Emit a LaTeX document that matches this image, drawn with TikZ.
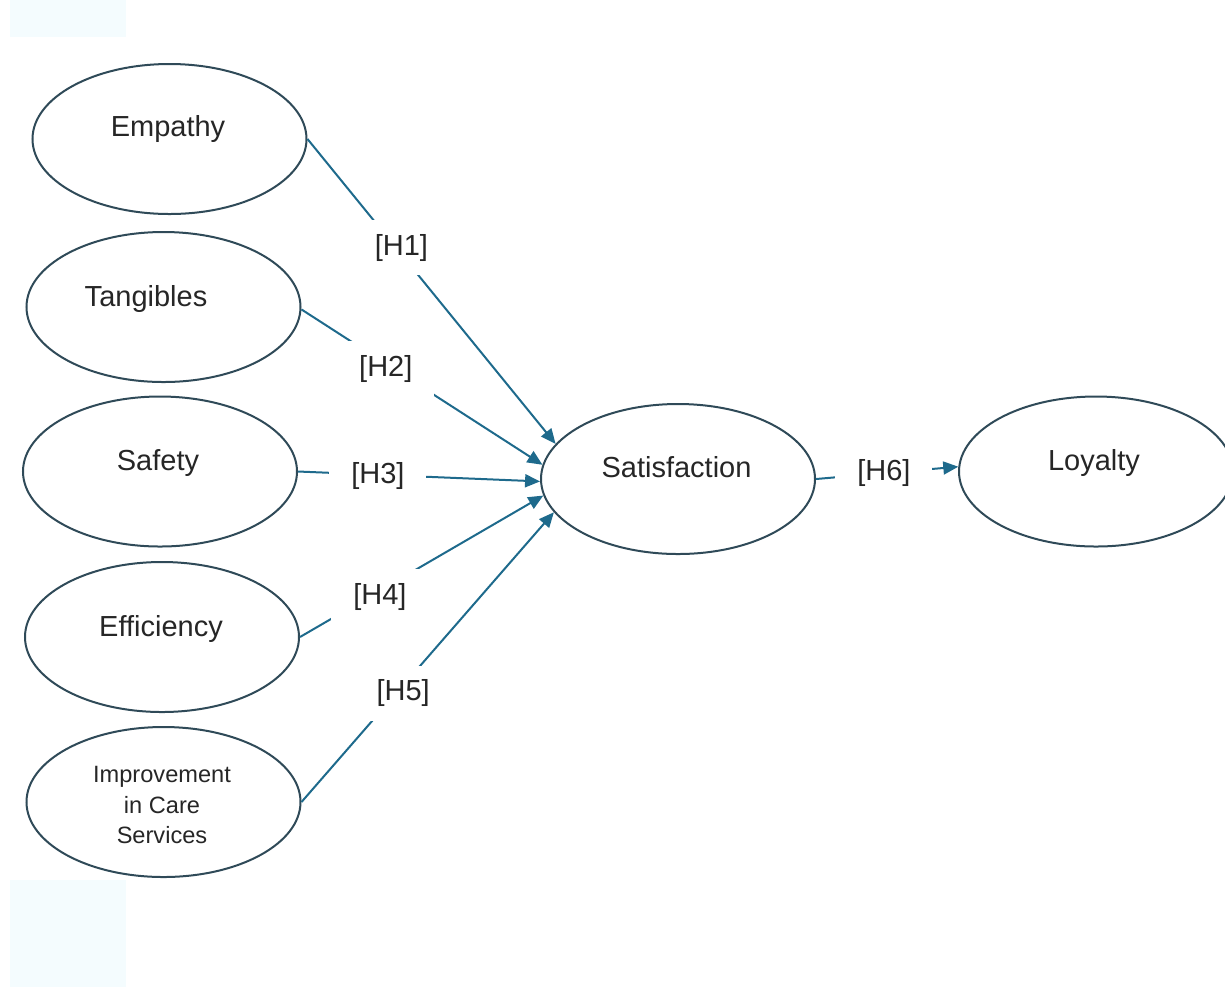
\documentclass[tikz,border=0pt]{standalone}
\usepackage{fontspec}
\setmainfont{Liberation Sans}
\usetikzlibrary{arrows.meta,shapes.geometric}
\definecolor{ellcol}{HTML}{2F4A58}
\definecolor{arrcol}{HTML}{1E6A8C}
\definecolor{txtcol}{HTML}{262626}
\definecolor{faint}{HTML}{F4FCFE}
\begin{document}
\begin{tikzpicture}[x=0.5pt,y=-0.5pt,
  construct/.style={ellipse, draw=ellcol, line width=1pt, minimum width=137pt, minimum height=75pt, inner sep=0pt},
  ctext/.style={text=txtcol, font=\fontsize{14.5}{17}\selectfont, anchor=base, inner sep=0pt},
  smalltext/.style={text=txtcol, font=\fontsize{11.8}{15.25}\selectfont, align=center, inner sep=0pt},
  hyp/.style={draw=arrcol, line width=1pt, -{Triangle[length=7.5pt,width=6.5pt]}},
  hlabel/.style={fill=white, text=txtcol, font=\fontsize{14.5}{17}\selectfont, inner xsep=11pt, inner ysep=7pt}
]
\useasboundingbox (0,0) rectangle (1225,987);
\fill[faint] (10,0) rectangle (126,37);
\fill[faint] (10,880) rectangle (126,987);

\node[construct] (emp) at (169.5,139) {};
\node[construct] (tan) at (163.5,307) {};
\node[construct] (saf) at (160,471.5) {};
\node[construct] (eff) at (162,637) {};
\node[construct] (imp) at (163.5,802) {};
\node[construct] (sat) at (678,479) {};
\node[construct] (loy) at (1096,471.5) {};

\node[ctext] (empT) at (168,136) {Empathy};
\node[ctext] (tanT) at (146,306) {Tangibles};
\node[ctext] (safT) at (158,470) {Safety};
\node[ctext] (effT) at (161,636) {Efficiency};
\node[smalltext] (impT) at (162,805) {Improvement\\in Care\\Services};
\node[ctext] (satT) at (676.5,477) {Satisfaction};
\node[ctext] (loyT) at (1094,470) {Loyalty};

\draw[hyp] (emp.east) -- node[hlabel,pos=0.35,xshift=3.5pt,yshift=-1pt] (h1) {[H1]} (sat.164.5);
\draw[hyp] (tan.-1) -- node[hlabel,pos=0.35,yshift=-2.5pt] (h2) {[H2]} (sat.174);
\draw[hyp] (saf.east) -- node[hlabel,pos=0.33,yshift=-0.5pt] (h3) {[H3]} (sat.181);
\draw[hyp] (eff.east) -- node[hlabel,pos=0.32,xshift=1pt,yshift=-2.5pt] (h4) {[H4]} (sat.187);
\draw[hyp] (imp.east) -- node[hlabel,pos=0.375,xshift=3.5pt] (h5) {[H5]} (sat.195.8);
\draw[hyp] (sat.east) -- node[hlabel,pos=0.47,xshift=0.5pt] (h6) {[H6]} (loy.178);
\end{tikzpicture}
\end{document}
